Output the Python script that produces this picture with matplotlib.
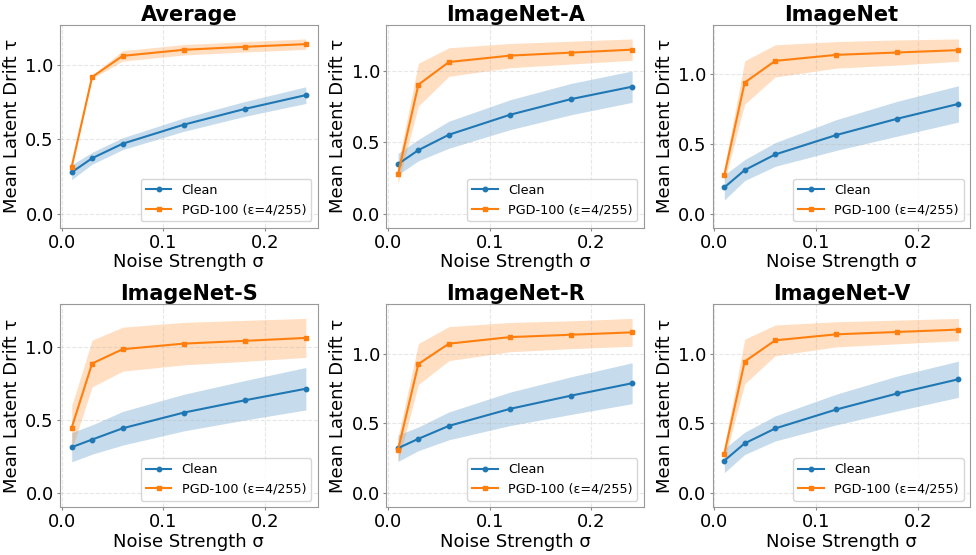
import numpy as np
import matplotlib
matplotlib.use("Agg")
import matplotlib.pyplot as plt

sigmas = [0.01, 0.03, 0.06, 0.12, 0.18, 0.24]
titulos = ["Average", "ImageNet-A", "ImageNet", "ImageNet-S", "ImageNet-R", "ImageNet-V"]

# media y desviacion por dataset
clean_media = {
    "Average":    [0.278, 0.372, 0.470, 0.598, 0.704, 0.797],
    "ImageNet-A": [0.347, 0.445, 0.553, 0.693, 0.803, 0.890],
    "ImageNet":   [0.187, 0.311, 0.423, 0.562, 0.679, 0.785],
    "ImageNet-S": [0.313, 0.365, 0.442, 0.549, 0.633, 0.712],
    "ImageNet-R": [0.322, 0.389, 0.482, 0.604, 0.699, 0.788],
    "ImageNet-V": [0.232, 0.356, 0.463, 0.599, 0.714, 0.816],
}
clean_std = {
    "Average":    [0.050, 0.040, 0.040, 0.045, 0.050, 0.056],
    "ImageNet-A": [0.075, 0.075, 0.095, 0.105, 0.110, 0.110],
    "ImageNet":   [0.090, 0.075, 0.085, 0.110, 0.125, 0.130],
    "ImageNet-S": [0.100, 0.100, 0.115, 0.125, 0.135, 0.145],
    "ImageNet-R": [0.095, 0.085, 0.100, 0.120, 0.135, 0.147],
    "ImageNet-V": [0.086, 0.080, 0.090, 0.110, 0.125, 0.130],
}
pgd_media = {
    "Average":    [0.316, 0.919, 1.061, 1.102, 1.122, 1.140],
    "ImageNet-A": [0.276, 0.904, 1.063, 1.108, 1.129, 1.150],
    "ImageNet":   [0.275, 0.938, 1.093, 1.136, 1.153, 1.170],
    "ImageNet-S": [0.447, 0.884, 0.982, 1.020, 1.039, 1.059],
    "ImageNet-R": [0.310, 0.926, 1.072, 1.119, 1.136, 1.153],
    "ImageNet-V": [0.282, 0.943, 1.095, 1.138, 1.155, 1.172],
}
pgd_std = {
    "Average":    [0.010, 0.010, 0.035, 0.035, 0.035, 0.035],
    "ImageNet-A": [0.070, 0.150, 0.100, 0.085, 0.080, 0.075],
    "ImageNet":   [0.050, 0.155, 0.115, 0.095, 0.090, 0.080],
    "ImageNet-S": [0.150, 0.160, 0.150, 0.145, 0.140, 0.133],
    "ImageNet-R": [0.090, 0.147, 0.122, 0.105, 0.100, 0.100],
    "ImageNet-V": [0.050, 0.160, 0.110, 0.090, 0.085, 0.080],
}

azul = "#1f77b4"
naranja = "#ff7f0e"

fig, axes = plt.subplots(2, 3, figsize=(9.76, 5.55), dpi=100)
x = np.array(sigmas)

for ax, nombre in zip(axes.flat, titulos):
    cm, cs = np.array(clean_media[nombre]), np.array(clean_std[nombre])
    pm, ps = np.array(pgd_media[nombre]), np.array(pgd_std[nombre])

    ax.plot(x, cm, marker="o", markersize=3.2, linewidth=1.5, color=azul, label="Clean")
    ax.fill_between(x, cm - cs, cm + cs, color=azul, alpha=0.25, linewidth=0)
    ax.plot(x, pm, marker="s", markersize=3.2, linewidth=1.5, color=naranja,
            label="PGD-100 (ε=4/255)")
    ax.fill_between(x, pm - ps, pm + ps, color=naranja, alpha=0.25, linewidth=0)

    tope = max((cm + cs).max(), (pm + ps).max())
    ax.set_ylim(-0.08 * tope, 1.08 * tope)
    ax.set_yticks([0.0, 0.5, 1.0])
    ax.set_xticks([0.0, 0.1, 0.2])

    ax.set_title(nombre, fontsize=15, fontweight="bold", pad=3)
    ax.set_xlabel("Noise Strength σ", fontsize=13, labelpad=1)
    ax.set_ylabel("Mean Latent Drift τ", fontsize=13, labelpad=3)
    ax.tick_params(labelsize=13, length=2.5, pad=2, color="#888888")
    ax.grid(True, linestyle="--", alpha=0.3)
    for s in ax.spines.values():
        s.set_color("#999999")
    ax.legend(loc="lower right", fontsize=9.2)

plt.subplots_adjust(left=0.0615, right=0.994, top=0.955, bottom=0.0865,
                    wspace=0.267, hspace=0.38)
plt.savefig("out.png", dpi=100)
plt.close()
